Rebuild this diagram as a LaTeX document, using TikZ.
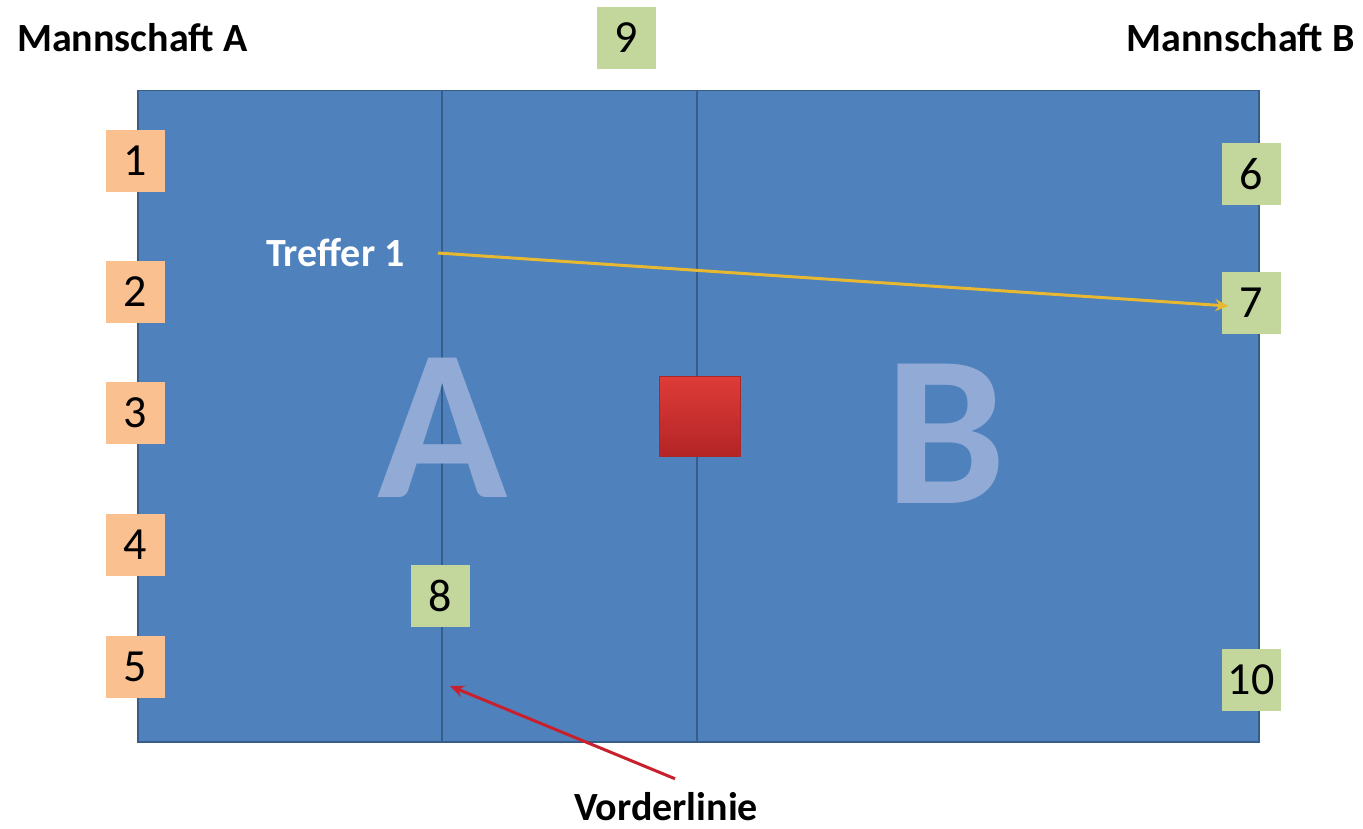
\documentclass[tikz,border=0pt]{standalone}
\usepackage{fontspec}
\setmainfont{Carlito}
\usetikzlibrary{arrows.meta}
\definecolor{court}{HTML}{4F81BD}
\definecolor{courtedge}{HTML}{385D8A}
\definecolor{orangebox}{HTML}{FAC090}
\definecolor{greenbox}{HTML}{C3D69B}
\definecolor{ghost}{HTML}{92ABD6}
\definecolor{gold}{HTML}{E8B830}
\definecolor{redarrow}{HTML}{C8202C}
\tikzset{
  numbox/.style={minimum width=59pt, minimum height=62pt, inner sep=0pt, font=\fontsize{46}{48}\selectfont, text=black},
  obox/.style={numbox, fill=orangebox},
  gbox/.style={numbox, fill=greenbox},
  label/.style={font=\fontsize{40}{42}\selectfont\bfseries, inner sep=0pt},
  bigletter/.style={font=\fontsize{215}{215}\selectfont\bfseries, text=ghost, inner sep=0pt},
  divider/.style={draw=courtedge, line width=1.8pt}
}
\begin{document}
\begin{tikzpicture}[x=1pt, y=-1pt]
\useasboundingbox (0,0) rectangle (1363,829);
% court
\node[draw=courtedge, line width=1.5pt, fill=court, minimum width=1121pt, minimum height=651pt, inner sep=0pt, anchor=north west] (court) at (137,90) {};
\coordinate (l1t) at (442,90); \coordinate (l1b) at (442,741);
\coordinate (l2t) at (697,90); \coordinate (l2b) at (697,741);
\draw[divider] (l1t) -- (l1b);
\draw[divider] (l2t) -- (l2b);
% big letters
\node[bigletter] (bigA) at (443,428) {A};
\node[bigletter] (bigB) at (946,434) {B};
% red square
\node[minimum width=81pt, minimum height=80pt, inner sep=0pt, top color={rgb,255:red,222;green,60;blue,56}, bottom color={rgb,255:red,180;green,36;blue,38}, draw={rgb,255:red,170;green,40;blue,40}, line width=0.8pt] (ball) at (700,416) {};
% labels
\node[label, anchor=base west] (mA) at (17,52) {Mannschaft A};
\node[label, anchor=base east] (mB) at (1355,52) {Mannschaft B};
\node[label, anchor=base west, text=white] (treffer) at (266,266) {Treffer 1};
\node[label, anchor=base] (vorder) at (666,820) {Vorderlinie};
% boxes team A
\node[obox] (b1) at (135,161) {1};
\node[obox] (b2) at (135,292) {2};
\node[obox] (b3) at (135,413) {3};
\node[obox] (b4) at (135,545) {4};
\node[obox] (b5) at (135,667) {5};
% boxes team B
\node[gbox] (b9) at (626,38) {9};
\node[gbox] (b6) at (1251,174) {6};
\node[gbox] (b7) at (1251,303) {7};
\node[gbox] (b8) at (440,596) {8};
\node[gbox] (b10) at (1251,680) {10};
% arrows
\coordinate (tstart) at (438,253);
\coordinate (vtarget) at (450,686);
\draw[gold, line width=3pt, -{Stealth[length=13pt,width=12pt]}] (tstart) -- ([xshift=7pt,yshift=-3pt]b7.west);
\draw[redarrow, line width=3pt, -{Stealth[length=14pt,width=12pt]}] ([xshift=9pt,yshift=13pt]vorder.north) -- (vtarget);
\end{tikzpicture}
\end{document}
